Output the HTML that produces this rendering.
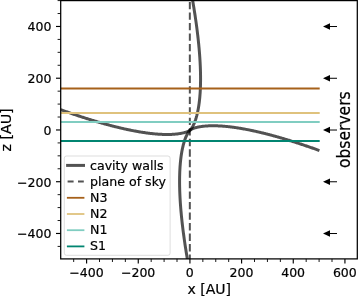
<!DOCTYPE html><html><head><meta charset="utf-8"><style>html,body{margin:0;padding:0;background:#fff;overflow:hidden}body{width:358px;height:296px;position:relative}</style></head><body><svg width="358" height="296" viewBox="0 0 358 296" style="display:block;position:absolute;left:0;top:0">
<rect width="358" height="296" fill="#fff"/>
<defs><clipPath id="ax"><rect x="60.7" y="0.6" width="296.6" height="258.29999999999995"/></clipPath></defs>
<g clip-path="url(#ax)" fill="none">
<path d="M60.72,109.69L61.37,109.93L62.02,110.16L62.67,110.39L63.31,110.63L63.96,110.86L64.61,111.09L65.26,111.32L65.91,111.55L66.56,111.78L67.20,112.01L67.85,112.23L68.50,112.46L69.15,112.69L69.80,112.91L70.45,113.14L71.09,113.36L71.74,113.58L72.39,113.81L73.04,114.03L73.69,114.25L74.34,114.47L74.98,114.69L75.63,114.91L76.28,115.13L76.93,115.35L77.58,115.56L78.23,115.78L78.87,115.99L79.52,116.21L80.17,116.42L80.82,116.64L81.47,116.85L82.12,117.06L82.76,117.27L83.41,117.48L84.06,117.69L84.71,117.90L85.36,118.11L86.01,118.31L86.65,118.52L87.30,118.72L87.95,118.93L88.60,119.13L89.25,119.33L89.90,119.54L90.55,119.74L91.19,119.94L91.84,120.14L92.49,120.34L93.14,120.53L93.79,120.73L94.44,120.92L95.08,121.12L95.73,121.31L96.38,121.51L97.03,121.70L97.68,121.89L98.33,122.08L98.97,122.27L99.62,122.46L100.27,122.65L100.92,122.83L101.57,123.02L102.22,123.20L102.86,123.39L103.51,123.57L104.16,123.75L104.81,123.93L105.46,124.11L106.11,124.29L106.75,124.47L107.40,124.64L108.05,124.82L108.70,124.99L109.35,125.17L110.00,125.34L110.64,125.51L111.29,125.68L111.94,125.85L112.59,126.02L113.24,126.18L113.89,126.35L114.53,126.51L115.18,126.68L115.83,126.84L116.48,127.00L117.13,127.16L117.78,127.32L118.43,127.47L119.07,127.63L119.72,127.79L120.37,127.94L121.02,128.09L121.67,128.24L122.32,128.39L122.96,128.54L123.61,128.69L124.26,128.84L124.91,128.98L125.56,129.12L126.21,129.26L126.85,129.41L127.50,129.54L128.15,129.68L128.80,129.82L129.45,129.95L130.10,130.09L130.74,130.22L131.39,130.35L132.04,130.48L132.69,130.61L133.34,130.73L133.99,130.86L134.63,130.98L135.28,131.10L135.93,131.22L136.58,131.34L137.23,131.45L137.88,131.57L138.52,131.68L139.17,131.79L139.82,131.90L140.47,132.01L141.12,132.11L141.77,132.22L142.41,132.32L143.06,132.42L143.71,132.52L144.36,132.61L145.01,132.71L145.66,132.80L146.30,132.89L146.95,132.98L147.60,133.07L148.25,133.15L148.90,133.23L149.55,133.31L150.20,133.39L150.84,133.47L151.49,133.54L152.14,133.61L152.79,133.68L153.44,133.74L154.09,133.81L154.73,133.87L155.38,133.93L156.03,133.98L156.68,134.04L157.33,134.09L157.98,134.14L158.62,134.18L159.27,134.22L159.92,134.26L160.57,134.30L161.22,134.33L161.87,134.36L162.51,134.39L163.16,134.41L163.81,134.43L164.46,134.45L165.11,134.46L165.76,134.47L166.40,134.48L167.05,134.48L167.70,134.48L168.35,134.48L169.00,134.47L169.65,134.45L170.29,134.44L170.94,134.41L171.59,134.38L172.24,134.35L172.89,134.32L173.54,134.27L174.18,134.23L174.83,134.17L175.48,134.12L176.13,134.05L176.78,133.98L177.43,133.90L178.08,133.82L178.72,133.73L179.37,133.63L180.02,133.52L180.67,133.41L181.32,133.28L181.97,133.15L182.61,133.01L183.26,132.85L183.91,132.69L184.56,132.51L185.21,132.32L185.86,132.11L186.50,131.88L187.15,131.64L187.80,131.37L188.45,131.07L189.10,130.74L189.75,130.35L190.39,129.89L191.04,129.50L191.69,129.17L192.34,128.87L192.99,128.60L193.64,128.36L194.28,128.13L194.93,127.92L195.58,127.73L196.23,127.55L196.88,127.39L197.53,127.23L198.17,127.09L198.82,126.96L199.47,126.83L200.12,126.72L200.77,126.61L201.42,126.51L202.06,126.42L202.71,126.34L203.36,126.26L204.01,126.19L204.66,126.12L205.31,126.07L205.96,126.01L206.60,125.97L207.25,125.92L207.90,125.89L208.55,125.86L209.20,125.83L209.85,125.80L210.49,125.79L211.14,125.77L211.79,125.76L212.44,125.76L213.09,125.76L213.74,125.76L214.38,125.77L215.03,125.78L215.68,125.79L216.33,125.81L216.98,125.83L217.63,125.85L218.27,125.88L218.92,125.91L219.57,125.94L220.22,125.98L220.87,126.02L221.52,126.06L222.16,126.10L222.81,126.15L223.46,126.20L224.11,126.26L224.76,126.31L225.41,126.37L226.05,126.43L226.70,126.50L227.35,126.56L228.00,126.63L228.65,126.70L229.30,126.77L229.94,126.85L230.59,126.93L231.24,127.01L231.89,127.09L232.54,127.17L233.19,127.26L233.84,127.35L234.48,127.44L235.13,127.53L235.78,127.63L236.43,127.72L237.08,127.82L237.73,127.92L238.37,128.02L239.02,128.13L239.67,128.23L240.32,128.34L240.97,128.45L241.62,128.56L242.26,128.67L242.91,128.79L243.56,128.90L244.21,129.02L244.86,129.14L245.51,129.26L246.15,129.38L246.80,129.51L247.45,129.63L248.10,129.76L248.75,129.89L249.40,130.02L250.04,130.15L250.69,130.29L251.34,130.42L251.99,130.56L252.64,130.70L253.29,130.83L253.93,130.98L254.58,131.12L255.23,131.26L255.88,131.40L256.53,131.55L257.18,131.70L257.82,131.85L258.47,132.00L259.12,132.15L259.77,132.30L260.42,132.45L261.07,132.61L261.71,132.77L262.36,132.92L263.01,133.08L263.66,133.24L264.31,133.40L264.96,133.56L265.61,133.73L266.25,133.89L266.90,134.06L267.55,134.22L268.20,134.39L268.85,134.56L269.50,134.73L270.14,134.90L270.79,135.07L271.44,135.25L272.09,135.42L272.74,135.60L273.39,135.77L274.03,135.95L274.68,136.13L275.33,136.31L275.98,136.49L276.63,136.67L277.28,136.85L277.92,137.04L278.57,137.22L279.22,137.41L279.87,137.59L280.52,137.78L281.17,137.97L281.81,138.16L282.46,138.35L283.11,138.54L283.76,138.73L284.41,138.93L285.06,139.12L285.70,139.32L286.35,139.51L287.00,139.71L287.65,139.90L288.30,140.10L288.95,140.30L289.59,140.50L290.24,140.70L290.89,140.91L291.54,141.11L292.19,141.31L292.84,141.52L293.49,141.72L294.13,141.93L294.78,142.13L295.43,142.34L296.08,142.55L296.73,142.76L297.38,142.97L298.02,143.18L298.67,143.39L299.32,143.60L299.97,143.82L300.62,144.03L301.27,144.25L301.91,144.46L302.56,144.68L303.21,144.89L303.86,145.11L304.51,145.33L305.16,145.55L305.80,145.77L306.45,145.99L307.10,146.21L307.75,146.43L308.40,146.66L309.05,146.88L309.69,147.10L310.34,147.33L310.99,147.55L311.64,147.78L312.29,148.01L312.94,148.23L313.58,148.46L314.23,148.69L314.88,148.92L315.53,149.15L316.18,149.38L316.83,149.61L317.47,149.85L318.12,150.08L318.77,150.31L319.42,150.55" stroke="#000" stroke-opacity="0.68" stroke-width="3.0" stroke-linecap="butt"/>
<path d="M189.17,269.09L188.92,267.75L188.68,266.41L188.43,265.07L188.20,263.74L187.96,262.41L187.73,261.08L187.50,259.76L187.27,258.44L187.05,257.13L186.83,255.81L186.61,254.51L186.40,253.20L186.19,251.90L185.98,250.60L185.77,249.31L185.57,248.02L185.37,246.73L185.17,245.45L184.98,244.17L184.79,242.89L184.60,241.62L184.42,240.35L184.24,239.09L184.06,237.83L183.89,236.57L183.72,235.32L183.55,234.07L183.38,232.83L183.22,231.58L183.06,230.35L182.91,229.11L182.76,227.88L182.61,226.66L182.46,225.43L182.32,224.22L182.18,223.00L182.05,221.79L181.92,220.58L181.79,219.38L181.66,218.18L181.54,216.99L181.42,215.80L181.31,214.61L181.20,213.43L181.09,212.26L180.98,211.08L180.88,209.91L180.79,208.75L180.69,207.59L180.60,206.43L180.52,205.28L180.43,204.13L180.35,202.99L180.28,201.85L180.21,200.72L180.14,199.59L180.08,198.46L180.01,197.34L179.96,196.22L179.91,195.11L179.86,194.00L179.81,192.90L179.77,191.80L179.73,190.71L179.70,189.62L179.67,188.54L179.65,187.46L179.62,186.38L179.61,185.31L179.59,184.25L179.59,183.19L179.58,182.14L179.58,181.09L179.58,180.04L179.59,179.00L179.61,177.97L179.62,176.94L179.64,175.92L179.67,174.90L179.70,173.88L179.73,172.88L179.77,171.87L179.82,170.88L179.87,169.89L179.92,168.90L179.98,167.92L180.04,166.95L180.11,165.98L180.18,165.02L180.26,164.06L180.34,163.11L180.43,162.16L180.52,161.23L180.62,160.29L180.72,159.37L180.83,158.45L180.95,157.54L181.06,156.63L181.19,155.73L181.32,154.84L181.46,153.95L181.60,153.07L181.75,152.20L181.90,151.33L182.06,150.47L182.23,149.62L182.40,148.78L182.58,147.94L182.77,147.12L182.96,146.30L183.16,145.48L183.36,144.68L183.58,143.89L183.80,143.10L184.02,142.32L184.26,141.55L184.50,140.80L184.76,140.05L185.02,139.31L185.29,138.58L185.56,137.86L185.85,137.16L186.15,136.46L186.45,135.78L186.77,135.11L187.10,134.45L187.44,133.81L187.80,133.18L188.17,132.57L188.55,131.98L188.95,131.41L189.38,130.87L189.83,130.36L190.31,129.88L190.76,129.37L191.19,128.83L191.59,128.26L191.97,127.67L192.34,127.06L192.70,126.43L193.04,125.79L193.37,125.13L193.69,124.46L193.99,123.78L194.29,123.08L194.58,122.38L194.85,121.66L195.12,120.93L195.38,120.19L195.64,119.44L195.88,118.69L196.12,117.92L196.34,117.14L196.56,116.35L196.78,115.56L196.98,114.76L197.18,113.94L197.37,113.12L197.56,112.30L197.74,111.46L197.91,110.62L198.08,109.77L198.24,108.91L198.39,108.04L198.54,107.17L198.68,106.29L198.82,105.40L198.95,104.51L199.08,103.61L199.19,102.70L199.31,101.79L199.42,100.87L199.52,99.95L199.62,99.01L199.71,98.08L199.80,97.13L199.88,96.18L199.96,95.22L200.03,94.26L200.10,93.29L200.16,92.32L200.22,91.34L200.27,90.35L200.32,89.36L200.37,88.37L200.41,87.36L200.44,86.36L200.47,85.34L200.50,84.32L200.52,83.30L200.53,82.27L200.55,81.24L200.56,80.20L200.56,79.15L200.56,78.10L200.55,77.05L200.55,75.99L200.53,74.93L200.52,73.86L200.49,72.78L200.47,71.70L200.44,70.62L200.41,69.53L200.37,68.44L200.33,67.34L200.28,66.24L200.23,65.13L200.18,64.02L200.13,62.90L200.06,61.78L200.00,60.65L199.93,59.52L199.86,58.39L199.79,57.25L199.71,56.11L199.62,54.96L199.54,53.81L199.45,52.65L199.35,51.49L199.26,50.33L199.16,49.16L199.05,47.98L198.94,46.81L198.83,45.63L198.72,44.44L198.60,43.25L198.48,42.06L198.35,40.86L198.22,39.66L198.09,38.45L197.96,37.24L197.82,36.02L197.68,34.81L197.53,33.58L197.38,32.36L197.23,31.13L197.08,29.89L196.92,28.66L196.76,27.41L196.59,26.17L196.42,24.92L196.25,23.67L196.08,22.41L195.90,21.15L195.72,19.89L195.54,18.62L195.35,17.35L195.16,16.07L194.97,14.79L194.77,13.51L194.57,12.22L194.37,10.93L194.16,9.64L193.95,8.34L193.74,7.04L193.53,5.73L193.31,4.43L193.09,3.11L192.87,1.80L192.64,0.48L192.41,-0.84L192.18,-2.17L191.94,-3.50L191.71,-4.83L191.46,-6.17L191.22,-7.51L190.97,-8.85" stroke="#000" stroke-opacity="0.68" stroke-width="3.0" stroke-linecap="square"/>
<path d="M189.83,1.9V258.9" stroke="#000" stroke-opacity="0.68" stroke-width="2" stroke-dasharray="7.35 3.18"/>
<path d="M60.77,88.5H319.70" stroke="#a6611a" stroke-width="1.8"/>
<path d="M60.77,113.0H319.70" stroke="#dfc27d" stroke-width="1.8"/>
<path d="M60.77,122.0H319.70" stroke="#80cdc1" stroke-width="1.8"/>
<path d="M60.77,141.0H319.70" stroke="#018571" stroke-width="1.8"/>
</g>
<path d="M337,26.52H329.8" stroke="#000" stroke-width="1" fill="none"/>
<path d="M323.0,26.52L330.0,23.27V29.77Z" fill="#000"/>
<path d="M337,78.27H329.8" stroke="#000" stroke-width="1" fill="none"/>
<path d="M323.0,78.27L330.0,75.02V81.52Z" fill="#000"/>
<path d="M337,130.02H329.8" stroke="#000" stroke-width="1" fill="none"/>
<path d="M323.0,130.02L330.0,126.77V133.27Z" fill="#000"/>
<path d="M337,181.77H329.8" stroke="#000" stroke-width="1" fill="none"/>
<path d="M323.0,181.77L330.0,178.52V185.02Z" fill="#000"/>
<path d="M337,233.52H329.8" stroke="#000" stroke-width="1" fill="none"/>
<path d="M323.0,233.52L330.0,230.27V236.77Z" fill="#000"/>
<rect x="64.3" y="156.0" width="105.8" height="99.3" rx="2.2" fill="#fff" fill-opacity="0.8" stroke="#d4d4d4" stroke-opacity="0.8" stroke-width="1"/>
<path d="M66.1,165.4H85.0" stroke="#000" stroke-opacity="0.68" stroke-width="3.0" fill="none"/>
<path d="M67.6,181.6H73.6M78.0,181.6H83.8" stroke="#000" stroke-opacity="0.68" stroke-width="2" fill="none"/>
<path d="M66.9,197.80H84.4" stroke="#a6611a" stroke-width="1.8" fill="none"/>
<path d="M66.9,214.00H84.4" stroke="#dfc27d" stroke-width="1.8" fill="none"/>
<path d="M66.9,230.20H84.4" stroke="#80cdc1" stroke-width="1.8" fill="none"/>
<path d="M66.9,246.40H84.4" stroke="#018571" stroke-width="1.8" fill="none"/>
<text x="90.0" y="169.60" font-family="DejaVu Sans, Liberation Sans, sans-serif" stroke="#000" stroke-width="0.2" font-size="12.6" fill="#000">cavity walls</text>
<text x="90.0" y="185.62" font-family="DejaVu Sans, Liberation Sans, sans-serif" stroke="#000" stroke-width="0.2" font-size="12.6" fill="#000">plane of sky</text>
<text x="90.0" y="201.64" font-family="DejaVu Sans, Liberation Sans, sans-serif" stroke="#000" stroke-width="0.2" font-size="12.6" fill="#000">N3</text>
<text x="90.0" y="217.66" font-family="DejaVu Sans, Liberation Sans, sans-serif" stroke="#000" stroke-width="0.2" font-size="12.6" fill="#000">N2</text>
<text x="90.0" y="233.68" font-family="DejaVu Sans, Liberation Sans, sans-serif" stroke="#000" stroke-width="0.2" font-size="12.6" fill="#000">N1</text>
<text x="90.0" y="249.70" font-family="DejaVu Sans, Liberation Sans, sans-serif" stroke="#000" stroke-width="0.2" font-size="12.6" fill="#000">S1</text>
<rect x="60.7" y="0.6" width="296.6" height="258.29999999999995" fill="none" stroke="#000" stroke-width="1.25"/>
<path d="M73.68,258.9v3.1" stroke="#000" stroke-width="0.9"/>
<path d="M86.60,258.9v4.7" stroke="#000" stroke-width="1.15"/>
<text x="86.50" y="277.4" text-anchor="middle" font-family="DejaVu Sans, Liberation Sans, sans-serif" stroke="#000" stroke-width="0.2" font-size="12.5">−400</text>
<path d="M99.51,258.9v3.1" stroke="#000" stroke-width="0.9"/>
<path d="M112.43,258.9v3.1" stroke="#000" stroke-width="0.9"/>
<path d="M125.35,258.9v3.1" stroke="#000" stroke-width="0.9"/>
<path d="M138.26,258.9v4.7" stroke="#000" stroke-width="1.15"/>
<text x="138.16" y="277.4" text-anchor="middle" font-family="DejaVu Sans, Liberation Sans, sans-serif" stroke="#000" stroke-width="0.2" font-size="12.5">−200</text>
<path d="M151.18,258.9v3.1" stroke="#000" stroke-width="0.9"/>
<path d="M164.10,258.9v3.1" stroke="#000" stroke-width="0.9"/>
<path d="M177.01,258.9v3.1" stroke="#000" stroke-width="0.9"/>
<path d="M189.93,258.9v4.7" stroke="#000" stroke-width="1.15"/>
<text x="189.83" y="277.4" text-anchor="middle" font-family="DejaVu Sans, Liberation Sans, sans-serif" stroke="#000" stroke-width="0.2" font-size="12.5">0</text>
<path d="M202.85,258.9v3.1" stroke="#000" stroke-width="0.9"/>
<path d="M215.76,258.9v3.1" stroke="#000" stroke-width="0.9"/>
<path d="M228.68,258.9v3.1" stroke="#000" stroke-width="0.9"/>
<path d="M241.60,258.9v4.7" stroke="#000" stroke-width="1.15"/>
<text x="241.50" y="277.4" text-anchor="middle" font-family="DejaVu Sans, Liberation Sans, sans-serif" stroke="#000" stroke-width="0.2" font-size="12.5">200</text>
<path d="M254.51,258.9v3.1" stroke="#000" stroke-width="0.9"/>
<path d="M267.43,258.9v3.1" stroke="#000" stroke-width="0.9"/>
<path d="M280.35,258.9v3.1" stroke="#000" stroke-width="0.9"/>
<path d="M293.26,258.9v4.7" stroke="#000" stroke-width="1.15"/>
<text x="293.16" y="277.4" text-anchor="middle" font-family="DejaVu Sans, Liberation Sans, sans-serif" stroke="#000" stroke-width="0.2" font-size="12.5">400</text>
<path d="M306.18,258.9v3.1" stroke="#000" stroke-width="0.9"/>
<path d="M319.10,258.9v3.1" stroke="#000" stroke-width="0.9"/>
<path d="M332.01,258.9v3.1" stroke="#000" stroke-width="0.9"/>
<path d="M344.93,258.9v4.7" stroke="#000" stroke-width="1.15"/>
<text x="344.83" y="277.4" text-anchor="middle" font-family="DejaVu Sans, Liberation Sans, sans-serif" stroke="#000" stroke-width="0.2" font-size="12.5">600</text>
<path d="M60.7,246.41h-3.1" stroke="#000" stroke-width="0.9"/>
<path d="M60.7,233.47h-4.7" stroke="#000" stroke-width="1.15"/>
<text x="51.4" y="238.37" text-anchor="end" font-family="DejaVu Sans, Liberation Sans, sans-serif" stroke="#000" stroke-width="0.2" font-size="12.5">−400</text>
<path d="M60.7,220.53h-3.1" stroke="#000" stroke-width="0.9"/>
<path d="M60.7,207.59h-3.1" stroke="#000" stroke-width="0.9"/>
<path d="M60.7,194.66h-3.1" stroke="#000" stroke-width="0.9"/>
<path d="M60.7,181.72h-4.7" stroke="#000" stroke-width="1.15"/>
<text x="51.4" y="186.62" text-anchor="end" font-family="DejaVu Sans, Liberation Sans, sans-serif" stroke="#000" stroke-width="0.2" font-size="12.5">−200</text>
<path d="M60.7,168.78h-3.1" stroke="#000" stroke-width="0.9"/>
<path d="M60.7,155.84h-3.1" stroke="#000" stroke-width="0.9"/>
<path d="M60.7,142.91h-3.1" stroke="#000" stroke-width="0.9"/>
<path d="M60.7,129.97h-4.7" stroke="#000" stroke-width="1.15"/>
<text x="51.4" y="134.87" text-anchor="end" font-family="DejaVu Sans, Liberation Sans, sans-serif" stroke="#000" stroke-width="0.2" font-size="12.5">0</text>
<path d="M60.7,117.03h-3.1" stroke="#000" stroke-width="0.9"/>
<path d="M60.7,104.09h-3.1" stroke="#000" stroke-width="0.9"/>
<path d="M60.7,91.16h-3.1" stroke="#000" stroke-width="0.9"/>
<path d="M60.7,78.22h-4.7" stroke="#000" stroke-width="1.15"/>
<text x="51.4" y="83.12" text-anchor="end" font-family="DejaVu Sans, Liberation Sans, sans-serif" stroke="#000" stroke-width="0.2" font-size="12.5">200</text>
<path d="M60.7,65.28h-3.1" stroke="#000" stroke-width="0.9"/>
<path d="M60.7,52.34h-3.1" stroke="#000" stroke-width="0.9"/>
<path d="M60.7,39.41h-3.1" stroke="#000" stroke-width="0.9"/>
<path d="M60.7,26.47h-4.7" stroke="#000" stroke-width="1.15"/>
<text x="51.4" y="31.37" text-anchor="end" font-family="DejaVu Sans, Liberation Sans, sans-serif" stroke="#000" stroke-width="0.2" font-size="12.5">400</text>
<path d="M60.7,13.53h-3.1" stroke="#000" stroke-width="0.9"/>
<path d="M60.7,0.59h-3.1" stroke="#000" stroke-width="0.9"/>
<text x="209.2" y="293.5" text-anchor="middle" font-family="DejaVu Sans, Liberation Sans, sans-serif" stroke="#000" stroke-width="0.2" font-size="14">x [AU]</text>
<text transform="translate(11.0,130.0) rotate(-90) scale(1,0.95)" text-anchor="middle" font-family="DejaVu Sans, Liberation Sans, sans-serif" stroke="#000" stroke-width="0.2" font-size="14.25">z [AU]</text>
<text transform="translate(349.8,129.7) rotate(-90) scale(1,1.10)" text-anchor="middle" font-family="DejaVu Sans, Liberation Sans, sans-serif" stroke="#000" stroke-width="0.2" font-size="15.55">observers</text>
</svg></body></html>
